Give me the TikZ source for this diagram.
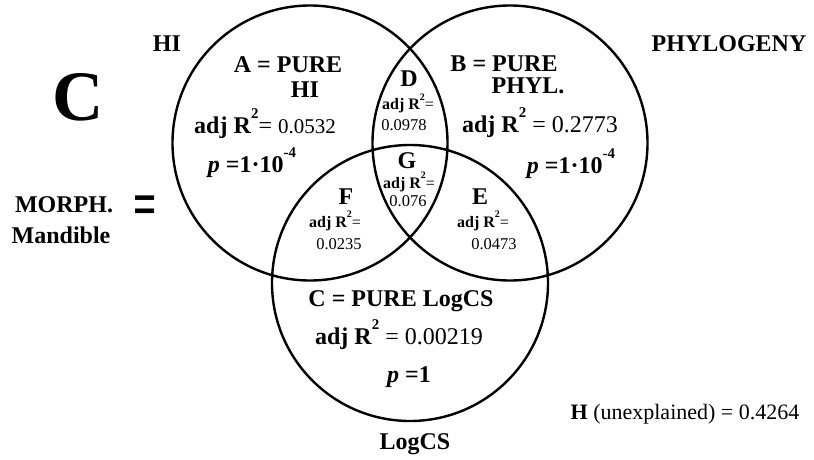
\documentclass[tikz,border=0pt]{standalone}
\usepackage{fontspec}
\setmainfont{Liberation Serif}
\newcommand\supb[1]{\raisebox{0.62em}{\scalebox{0.62}{\bfseries #1}}}
\tikzset{
  ring/.style={draw, line width=2.4pt, circle, minimum size=275pt, inner sep=0pt},
  big/.style={font=\fontsize{24}{26}\selectfont, inner sep=0pt, anchor=base},
  bigb/.style={font=\fontsize{24}{26}\selectfont\bfseries, inner sep=0pt, anchor=base},
  small/.style={font=\fontsize{16.5}{18}\selectfont, inner sep=0pt, anchor=base},
  smallb/.style={font=\fontsize{16}{18}\selectfont\bfseries, inner sep=0pt, anchor=base}
}
\begin{document}
\begin{tikzpicture}[x=1pt,y=-1pt]
\useasboundingbox (0,0) rectangle (814,460);
% circles
\node[ring] (ringA) at (310,143) {};
\node[ring] (ringB) at (510,143) {};
\node[ring, minimum size=276pt] (ringC) at (410,283) {};
% outer labels
\node[bigb, font=\fontsize{71}{71}\selectfont\bfseries] (bigC) at (78,120) {C};
\node[bigb] (hi) at (167,52) {HI};
\node[bigb] (phylo) at (729,52) {PHYLOGENY};
\node[bigb] (morph) at (64,212) {MORPH.};
\node[bigb] (mand) at (61,243) {Mandible};
\node[font=\fontsize{41}{41}\selectfont\bfseries, inner sep=0pt] (eq) at (145,211) {\scalebox{1}[1.6]{=}};
\node[bigb] (logcs) at (415,449) {LogCS};
\node[big, font=\fontsize{22}{24}\selectfont] (hres) at (685,419) {\textbf{H} (unexplained) = 0.4264};
% region A
\node[bigb] (aT) at (288,73) {A = PURE};
\node[bigb] (aH) at (305,98) {HI};
\node[big] (aR) at (265,133) {\textbf{adj R}\supb{2}= {\fontsize{21}{22}\selectfont 0.0532}};
\node[bigb] (aP) at (252,172) {\textit{p} =1·10\supb{-4}};
% region B
\node[bigb] (bT) at (504,71) {B = PURE};
\node[bigb] (bH) at (528,93) {PHYL.};
\node[big] (bR) at (540,132) {\textbf{adj R}\supb{2} = 0.2773};
\node[bigb] (bP) at (571,173) {\textit{p} =1·10\supb{-4}};
% region C
\node[bigb] (cT) at (401,306) {C = PURE LogCS};
\node[big] (cR) at (399,344) {\textbf{adj R}\supb{2} = 0.00219};
\node[bigb] (cP) at (409,382) {\textit{p} =1};
% region D
\node[bigb] (dT) at (409,87) {D};
\node[smallb] (dR) at (408,110) {adj R\supb{2}\textmd{=}};
\node[small] (dV) at (404,130) {0.0978};
% region G
\node[bigb] (gT) at (407,168) {G};
\node[smallb] (gR) at (409,188) {adj R\supb{2}\textmd{=}};
\node[small] (gV) at (408,206) {0.076};
% region F
\node[bigb] (fT) at (346,204) {F};
\node[smallb] (fR) at (335,227) {adj R\supb{2}\textmd{=}};
\node[small] (fV) at (339,249) {0.0235};
% region E
\node[bigb] (eT) at (480,204) {E};
\node[smallb] (eR) at (483,227) {adj R\supb{2}\textmd{=}};
\node[small] (eV) at (494,249) {0.0473};
\end{tikzpicture}
\end{document}
